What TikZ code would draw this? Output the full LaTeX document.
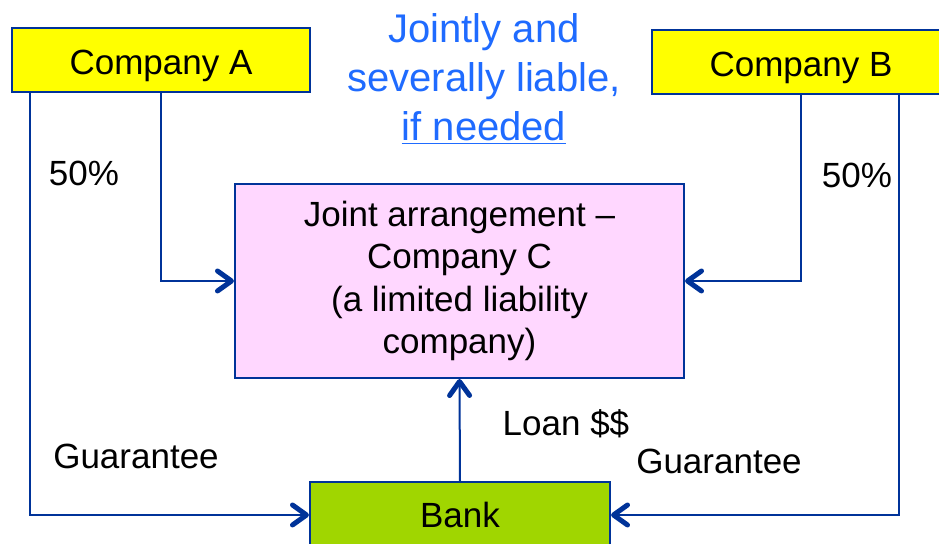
\documentclass[tikz,border=0pt]{standalone}
\usepackage{fontspec}
\setmainfont{Liberation Sans}
\usetikzlibrary{arrows.meta,positioning}
\definecolor{linkblue}{RGB}{0,51,153}
\definecolor{compyellow}{RGB}{255,255,0}
\definecolor{jointpink}{RGB}{255,215,255}
\definecolor{bankgreen}{RGB}{160,214,0}
\definecolor{liableblue}{RGB}{31,107,255}
\tikzset{>={Straight Barb[length=7pt,width=10pt,line width=2.5pt,round]},
	every node/.append style={font=\fontsize{17.5}{21.3}\selectfont}}
\tikzstyle{company}=[draw=linkblue, line width=1pt, fill=compyellow,
minimum width=149pt, minimum height=32pt, text height=15pt, text depth=0pt]
\tikzstyle{jointbox}=[draw=linkblue, line width=1pt, fill=jointpink,
minimum width=224.5pt, minimum height=97pt, align=center]
\tikzstyle{bankbox}=[draw=linkblue, line width=1pt, fill=bankgreen,
minimum width=150pt, minimum height=33pt]
\tikzstyle{liable}=[text=liableblue, align=center,
font=\fontsize{20}{24.5}\selectfont]
\tikzstyle{link}=[draw=linkblue, line width=1pt, ->]

\begin{document}
\begin{tikzpicture}[x=0.5pt,y=-0.5pt]
	\useasboundingbox (0,0) rectangle (939,544);
	\node[company] (compA) at (161,60) {Company A};
	\node[company] (compB) at (801,62) {Company B};
	\node[jointbox] (joint) at (459.5,281)
	{Joint arrangement --\\Company C\\(a limited liability\\company)};
	\node[bankbox] (bank) at (460,515) {Bank};
	\node[liable] (liable) at (484,79)
	{Jointly and\\severally liable,\\\underline{if needed}};
	\node (pctA) at (84,173) {50\%};
	\node (pctB) at (857,175) {50\%};
	\node (guarA) at (136,456) {Guarantee};
	\node (guarB) at (719,461) {Guarantee};
	\node (loan) at (566,424) {Loan \$\$};
	\draw[link] ([xshift=-65.5pt]compA.south) |- (bank.west);
	\draw[link] (compA.south) |- (joint.west);
	\draw[link] (compB.south) |- (joint.east);
	\draw[link] ([xshift=49pt]compB.south) |- (bank.east);
	\draw[link] (bank.north) -- (joint.south);
\end{tikzpicture}
\end{document}
